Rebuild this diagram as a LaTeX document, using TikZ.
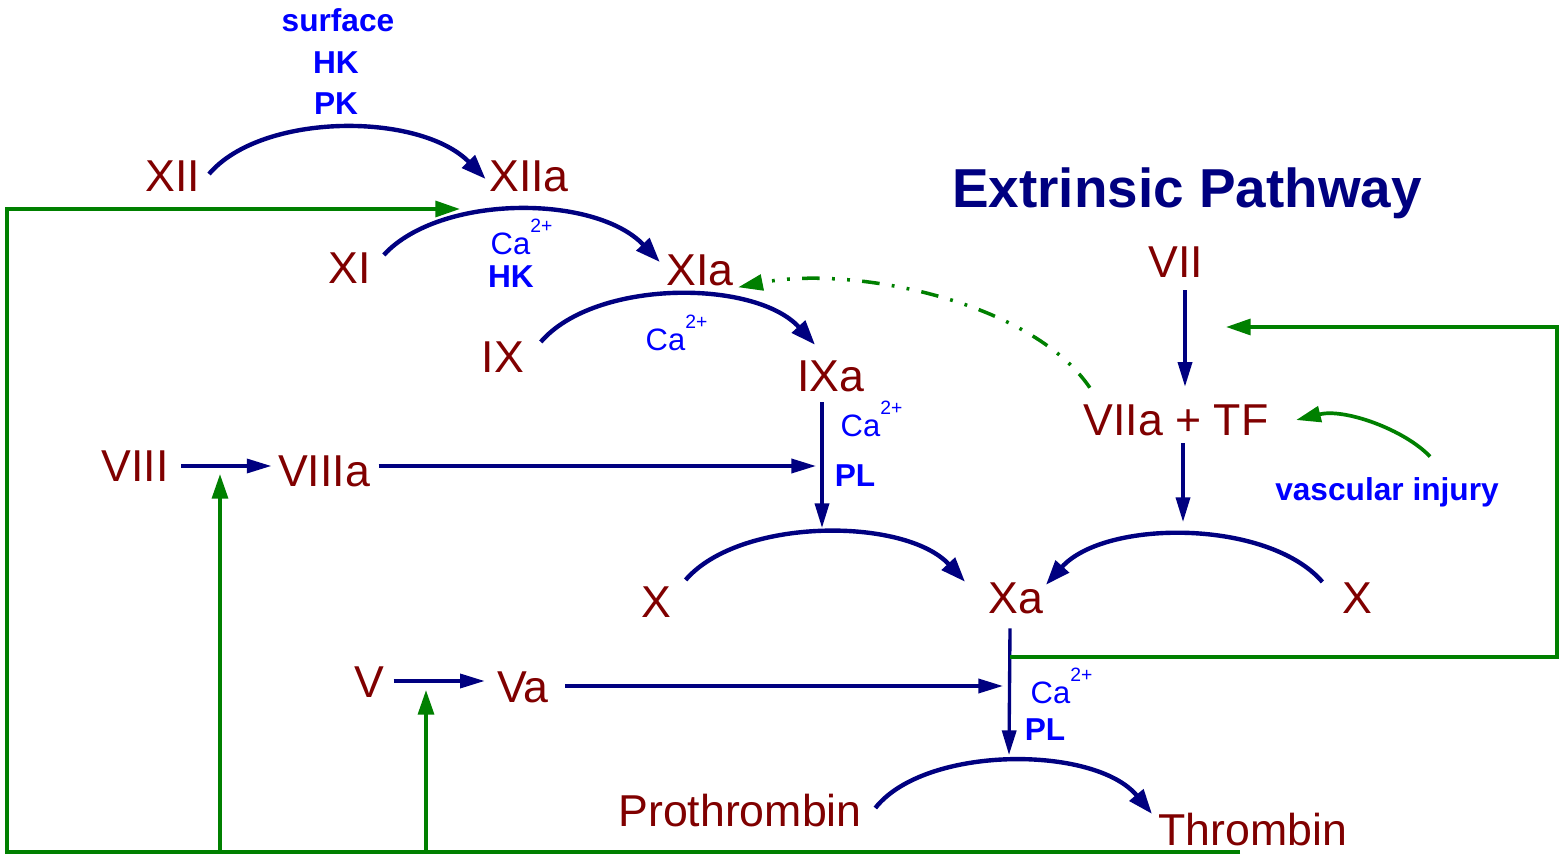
\documentclass[tikz,border=0pt]{standalone}
\usepackage{fontspec}
\setmainfont{Liberation Sans}
\usetikzlibrary{arrows.meta}
\definecolor{fred}{HTML}{800000}
\definecolor{fblue}{HTML}{0000FF}
\definecolor{fnavy}{HTML}{000080}
\definecolor{fgreen}{HTML}{008000}
\newcommand\caion{Ca\raisebox{6.3pt}{\fontsize{5.5}{6}\selectfont 2+}}
\begin{document}
\begin{tikzpicture}[x=0.01cm,y=-0.01cm,
 fac/.style={text=fred, inner sep=0pt, font=\fontsize{12.7}{14}\selectfont},
 cof/.style={text=fblue, inner sep=0pt, font=\bfseries\fontsize{9}{10}\selectfont},
 ca/.style={text=fblue, inner sep=0pt, anchor=base west, font=\fontsize{8.8}{10}\selectfont},
 arcarrow/.style={draw=fnavy, line width=1.25pt, -{Triangle[length=7pt,width=5pt]}},
 nline/.style={draw=fnavy, line width=0.95pt, -{Triangle[length=7pt,width=4pt]}},
 gline/.style={draw=fgreen, line width=1.05pt, -{Triangle[length=7pt,width=4.5pt]}},
]
\useasboundingbox (0,0) rectangle (1560,855);
\fill[white] (0,0) rectangle (1560,855);

% factors
\node[fac] (XII) at (173,176) {XII};
\node[fac] (XIIa) at (529,176) {XIIa};
\node[fac] (XI) at (350,268) {XI};
\node[fac] (XIa) at (700,270) {XIa};
\node[fac] (IX) at (503,357) {IX};
\node[fac] (IXa) at (831,376) {IXa};
\node[fac] (VIII) at (135,466) {VIII};
\node[fac] (VIIIa) at (324,471) {VIIIa};
\node[fac] (XL) at (656,602) {X};
\node[fac] (Xa) at (1016,598) {Xa};
\node[fac] (XR) at (1357,598) {X};
\node[fac] (V) at (369,682) {V};
\node[fac] (Va) at (523,687) {Va};
\node[fac] (Pro) at (740,811) {Prothrombin};
\node[fac] (Thr) at (1253,830) {Thrombin};
\node[fac] (VII) at (1176,262) {VII};
\node[fac] (VIIaTF) at (1176,420) {VIIa + TF};
\node[text=fnavy, inner sep=0pt, font=\bfseries\fontsize{15.6}{18}\selectfont] (title) at (1187,193) {Extrinsic Pathway};

% cofactors
\node[cof] (surf) at (338,20) {surface};
\node[cof] (hk1) at (336,63) {HK};
\node[cof] (pk) at (336,104) {PK};
\node[ca] (ca1) at (490,255) {\caion};
\node[cof] (hk2) at (511,277) {HK};
\node[ca] (ca2) at (645,351) {\caion};
\node[ca] (ca3) at (840,437) {\caion};
\node[cof] (pl1) at (855,476) {PL};
\node[ca] (ca4) at (1030,704) {\caion};
\node[cof] (pl2) at (1045,730) {PL};
\node[cof] (vi) at (1387,492) {vascular injury};

% named coordinates
\coordinate (tL) at (822,528);
\coordinate (tR) at (1183,522);
\coordinate (tP) at (1009,755);
\coordinate (jIX) at (816,466);
\coordinate (jXa) at (1003,686);
\coordinate (gTh) at (1240,852);
\coordinate (gBL) at (7,852);
\coordinate (gTL) at (7,209);
\coordinate (gXI) at (460,209);
\coordinate (g8) at (220,852);
\coordinate (m8) at (220,474);
\coordinate (g5) at (426,852);
\coordinate (m5) at (426,690);
\coordinate (gXa) at (1010,657);
\coordinate (gR1) at (1557,657);
\coordinate (gR2) at (1557,327);
\coordinate (gVII) at (1226,327);

% navy arcs
\draw[arcarrow] ([shift={(8,-2)}]XII.east) .. controls (262,112) and (420,112) .. ([shift={(-3,3)}]XIIa.west);
\draw[arcarrow] ([shift={(12,3)}]XI.north east) .. controls (440,194) and (595,194) .. ([shift={(-6,-8)}]XIa.west);
\draw[arcarrow] ([shift={(16,1)}]IX.north east) .. controls (595,279) and (755,279) .. ([shift={(-16,-15)}]IXa.north);
\draw[arcarrow] ([shift={(14,-6)}]XL.north east) .. controls (740,517) and (905,517) .. ([shift={(-23,0)}]Xa.north west);
\draw[arcarrow] ([shift={(-19,0)}]XR.north west) .. controls (1268,519) and (1105,519) .. ([shift={(2,3)}]Xa.north east);
\draw[arcarrow] ([shift={(13,-3)}]Pro.east) .. controls (925,745) and (1095,745) .. ([shift={(-6,1)}]Thr.north west);

% navy straight arrows
\draw[nline] ([shift={(-9,10)}]IXa.south) -- (tL);
\draw[nline] ([shift={(12,0)}]VIII.east) -- ([shift={(-6,-5)}]VIIIa.west);
\draw[nline] ([shift={(8,-5)}]VIIIa.east) -- (jIX);
\draw[nline] ([shift={(9,-1)}]V.east) -- ([shift={(-12,-6)}]Va.west);
\draw[nline] ([shift={(16,-1)}]Va.east) -- (jXa);
\draw[nline] ([shift={(-6,14)}]Xa.south) -- (tP);
\draw[nline] ([shift={(9,12)}]VII.south) -- ([shift={(9,-17)}]VIIaTF.north);
\draw[nline] ([shift={(7,7)}]VIIaTF.south) -- (tR);

% green feedback
\draw[gline] (gTh) -- (gBL) -- (gTL) -- (gXI);
\draw[gline] (g8) -- (m8);
\draw[gline] (g5) -- (m5);
\draw[gline] (gXa) -- (gR1) -- (gR2) -- (gVII);
\draw[gline] ([shift={(43,-20)}]vi.north) .. controls (1405,430) and (1345,408) .. ([shift={(27,0)}]VIIaTF.east);
\draw[draw=fgreen, line width=1pt, dash pattern=on 5pt off 3.5pt on 0.8pt off 3.5pt on 0.8pt off 3.5pt, -{Triangle[length=7pt,width=4.5pt]}]
  ([shift={(7,-16)}]VIIaTF.north west) .. controls (1030,300) and (850,265) .. ([shift={(4,1)}]XIa.south east);
\end{tikzpicture}
\end{document}
